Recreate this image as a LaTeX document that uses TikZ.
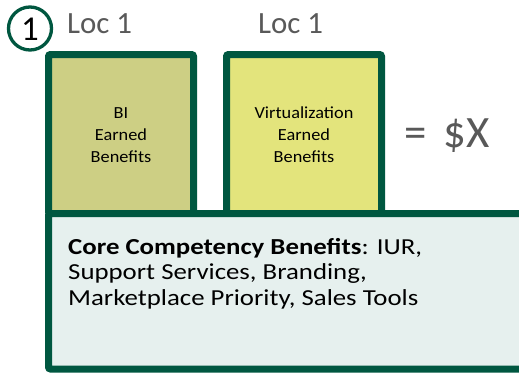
\documentclass[tikz,border=0pt]{standalone}
\usepackage{fontspec}
\setmainfont{Carlito}
\newfontfamily\corefont[FakeStretch=1.17]{Carlito}
\newfontfamily\boxfont[FakeStretch=1.08]{Carlito}
\usepackage{tikz}
\definecolor{darkgreen}{RGB}{0,87,64}
\definecolor{biolive}{RGB}{205,207,132}
\definecolor{virtyellow}{RGB}{227,228,124}
\definecolor{corefill}{RGB}{230,240,238}
\definecolor{locgray}{RGB}{89,89,89}

\begin{document}
\begin{tikzpicture}[x=1bp,y=-1bp]
              \tikzstyle{every node}+=[inner sep=0pt]
              \tikzstyle{benefitbox}=[draw=darkgreen, line width=7bp, rounded corners=2bp]
              \tikzstyle{boxtext}=[anchor=base, align=center, font=\boxfont\fontsize{17}{22}\selectfont]
              \tikzstyle{loclabel}=[anchor=base west, text=locgray, font=\fontsize{31}{36}\selectfont]
              \clip (0,0) rectangle (519,372);
              \fill [white] (0,0) rectangle (519,372);
              \draw [benefitbox, fill=biolive] (48.5,213.5) -- (48.5,54.5) -- (193.5,54.5) -- (193.5,213.5);
              \draw [benefitbox, fill=virtyellow] (226.5,213.5) -- (226.5,54.5) -- (381.5,54.5) -- (381.5,213.5);
              \draw [benefitbox, fill=corefill] (48.5,213.5) rectangle (540,369);
              \draw [darkgreen, line width=3.3bp] (30,28.5) circle (21.5);
              \node (one) at (30,29.5) {\fontsize{35}{40}\selectfont 1};
              \node [loclabel] (locbi) at (67,33) {Loc 1};
              \node [loclabel] (locvirt) at (258,33) {Loc 1};
              \node [boxtext] (bi) at (121,162.5) {BI\\Earned\\Benefits};
              \node [boxtext] (virt) at (304,162.5) {Virtualization\\Earned\\Benefits};
              \node [anchor=base west, text=locgray, font=\fontsize{45}{50}\selectfont] (total) at (404,147) {=\hspace{17bp}\$X};
              \node [anchor=base west, align=left, font=\corefont\fontsize{23}{25.5}\selectfont] (core) at (68,305)
                {\textbf{Core Competency Benefits}: IUR,\\Support Services, Branding,\\Marketplace Priority, Sales Tools};
            \end{tikzpicture}
\end{document}
